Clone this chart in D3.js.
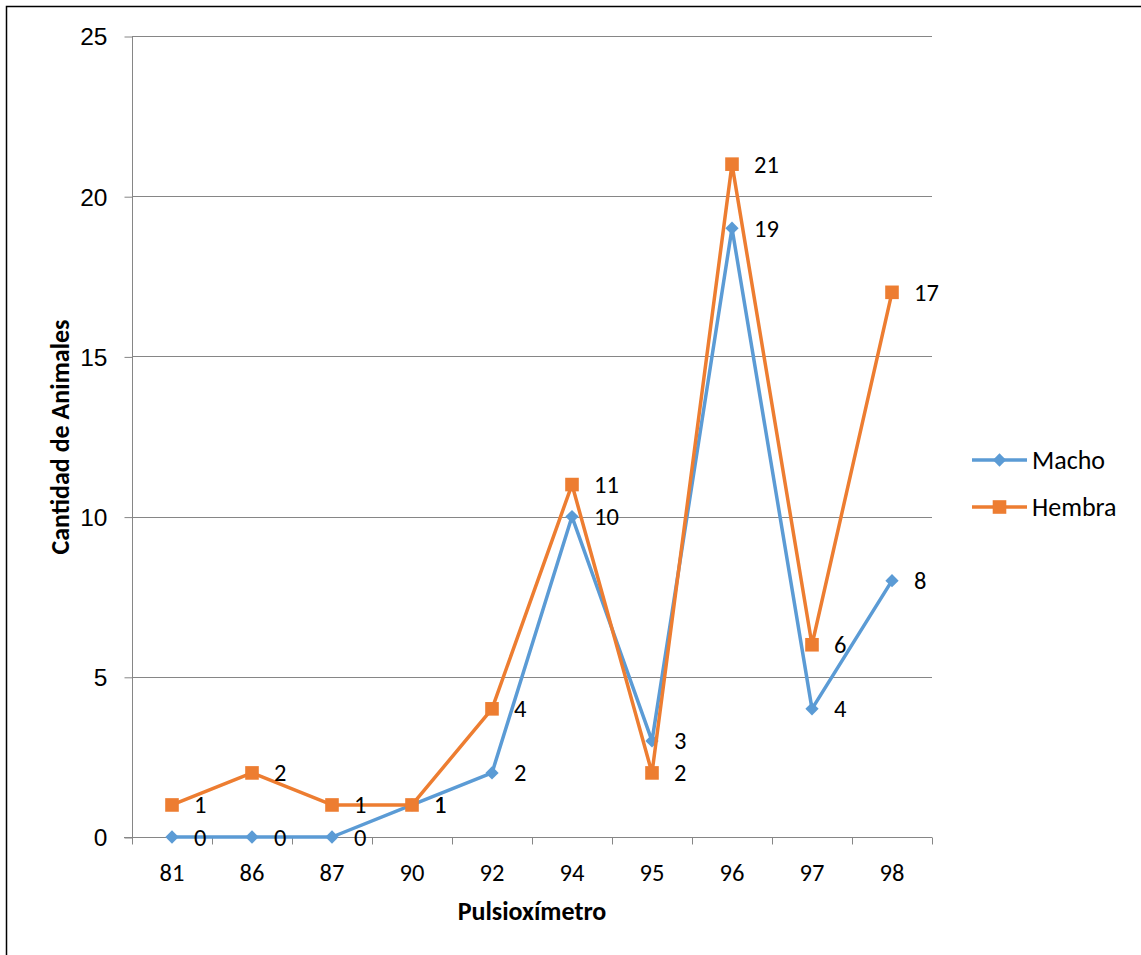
<!DOCTYPE html>
<html>
<head>
<meta charset="utf-8">
<script src="https://cdn.jsdelivr.net/npm/d3@7/dist/d3.min.js"></script>
<style>
  html, body { margin: 0; padding: 0; background: #fff; }
  svg { display: block; font-family: Carlito, Calibri, Lato, "Liberation Sans", sans-serif; }
</style>
</head>
<body>
<svg id="chart" width="1141" height="955"></svg>
<script>
// Pulse-oximeter readings and animal counts by sex
const categories = ["81", "86", "87", "90", "92", "94", "95", "96", "97", "98"];
const macho = [0, 0, 0, 1, 2, 10, 3, 19, 4, 8];
const hembra = [1, 2, 1, 1, 4, 11, 2, 21, 6, 17];
const yTicks = [0, 5, 10, 15, 20, 25];

const seriesList = [
  { name: "Macho", values: macho, color: "#5B9BD5", symbol: d3.symbolSquare, size: 88, rotate: 45 },
  { name: "Hembra", values: hembra, color: "#ED7D31", symbol: d3.symbolSquare, size: 185, rotate: 0 }
];

const numSize = 24.5;   // numeric labels
const wordSize = 26;    // words

const svg = d3.select("#chart");
const grid = "#868686";

// chart frame
svg.append("rect").attr("x", 6.5).attr("y", 6.5).attr("width", 1200).attr("height", 1000)
  .attr("fill", "none").attr("stroke", "#000").attr("stroke-width", 1.5);

const plot = { left: 132, right: 932, top: 36, bottom: 837 };

const x = d3.scaleBand().domain(categories).range([plot.left, plot.right]);
const y = d3.scaleLinear().domain([0, 25]).range([plot.bottom, plot.top]);

// horizontal gridlines
svg.append("g").selectAll("line").data(yTicks.filter(v => v > 0)).join("line")
  .attr("x1", plot.left).attr("x2", plot.right)
  .attr("y1", d => Math.round(y(d)) + 0.5).attr("y2", d => Math.round(y(d)) + 0.5)
  .attr("stroke", grid).attr("stroke-width", 1);

// y axis
const yAxis = svg.append("g").attr("transform", `translate(${plot.left + 0.5},0.5)`)
  .call(d3.axisLeft(y).tickValues(yTicks).tickSize(8).tickPadding(17).tickSizeOuter(0));
yAxis.select(".domain").attr("stroke", grid).attr("d", `M0,${plot.top}V${plot.bottom + 6}`);
yAxis.selectAll(".tick line").attr("stroke", grid);
yAxis.selectAll(".tick text").attr("font-size", numSize).attr("fill", "#000")
  .attr("font-family", null).attr("dy", "0.34em");

// x axis with ticks on band boundaries
const xAxis = svg.append("g").attr("transform", `translate(0,${Math.round(plot.bottom) + 0.5})`);
xAxis.append("line").attr("x1", plot.left - 8).attr("x2", plot.right).attr("stroke", grid);
const bounds = categories.map(c => x(c)).concat([plot.right]);
xAxis.selectAll("line.tk").data(bounds).join("line").attr("class", "tk")
  .attr("x1", d => Math.round(d) + 0.5).attr("x2", d => Math.round(d) + 0.5)
  .attr("y1", 0).attr("y2", 7).attr("stroke", grid);
xAxis.selectAll("text").data(categories).join("text")
  .attr("x", d => x(d) + x.bandwidth() / 2).attr("y", 43)
  .attr("text-anchor", "middle").attr("font-size", numSize).attr("fill", "#000").text(d => d);

// axis titles
svg.append("text").attr("x", 532).attr("y", 920).attr("text-anchor", "middle")
  .attr("font-size", wordSize).attr("font-weight", "bold").text("Pulsioxímetro");
svg.append("text").attr("transform", "translate(69,437) rotate(-90)").attr("text-anchor", "middle")
  .attr("font-size", wordSize).attr("font-weight", "bold").text("Cantidad de Animales");

const cx = c => x(c) + x.bandwidth() / 2;
const line = d3.line().x((d, i) => cx(categories[i])).y(d => y(d));

seriesList.forEach(s => {
  const g = svg.append("g");
  g.append("path").datum(s.values).attr("d", line)
    .attr("fill", "none").attr("stroke", s.color).attr("stroke-width", 3.5).attr("stroke-linejoin", "round");
  g.selectAll("path.m").data(s.values).join("path").attr("class", "m")
    .attr("transform", (d, i) => `translate(${cx(categories[i])},${y(d)}) rotate(${s.rotate})`)
    .attr("d", d3.symbol().type(s.symbol).size(s.size)).attr("fill", s.color);
  g.selectAll("text").data(s.values).join("text")
    .attr("x", (d, i) => cx(categories[i]) + 22).attr("y", d => y(d) + 8.5)
    .attr("font-size", numSize).attr("fill", "#000").text(d => d);
});

// legend
const legend = svg.append("g");
seriesList.forEach((s, i) => {
  const ly = 460 + i * 47;
  legend.append("line").attr("x1", 972).attr("x2", 1027).attr("y1", ly).attr("y2", ly)
    .attr("stroke", s.color).attr("stroke-width", 3.5);
  legend.append("path").attr("transform", `translate(999.5,${ly}) rotate(${s.rotate})`)
    .attr("d", d3.symbol().type(s.symbol).size(s.size)).attr("fill", s.color);
  legend.append("text").attr("x", 1032).attr("y", ly + 8.5).attr("font-size", wordSize).text(s.name);
});
</script>
</body>
</html>
